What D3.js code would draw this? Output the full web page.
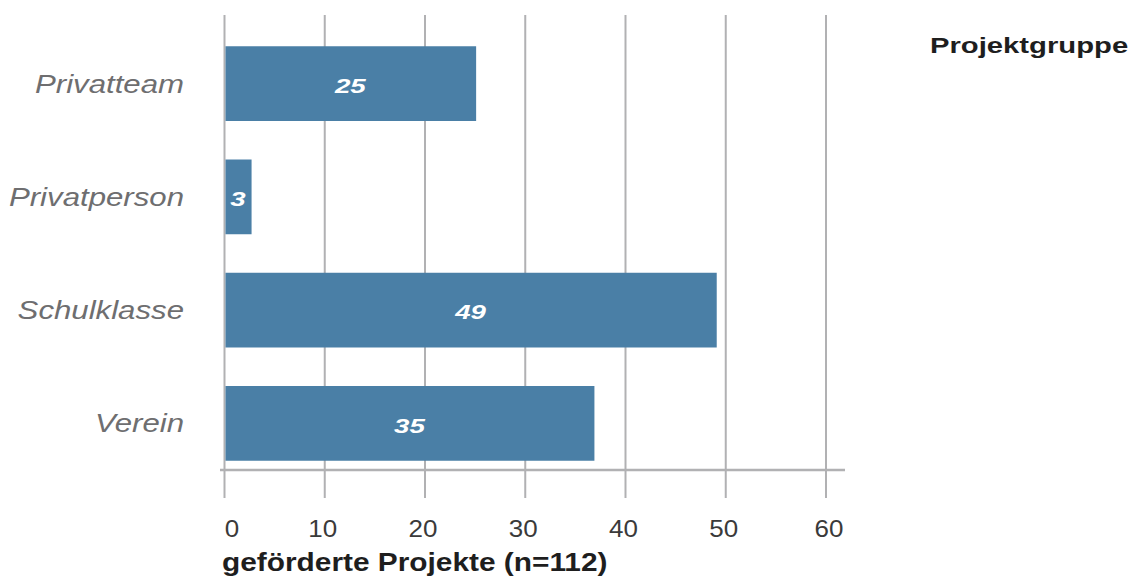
<!DOCTYPE html>
<html>
<head>
<meta charset="utf-8">
<script src="https://cdn.jsdelivr.net/npm/d3@7"></script>
<style>
  html, body { margin: 0; padding: 0; background: #fff; }
  svg { display: block; font-family: "Liberation Sans", Arial, Helvetica, sans-serif; }
</style>
</head>
<body>
<svg id="chart" width="1136" height="577"></svg>
<script>
// ---- data ----
const categories = ["Privatteam", "Privatperson", "Schulklasse", "Verein"];
const barValues  = [25.1, 2.7, 49.1, 36.9];   // drawn bar lengths
const valueLabels = ["25", "3", "49", "35"];  // printed labels
const xTicks = [0, 10, 20, 30, 40, 50, 60];
const xTitle = "geförderte Projekte (n=112)";
const legendTitle = "Projektgruppe";

// ---- layout ----
const svg = d3.select("#chart");
const x = d3.scaleLinear().domain([0, 60]).range([224.5, 826]);
const y = d3.scaleBand().domain(categories).range([27, 480]).paddingInner(0.34).paddingOuter(0.17);
const axisY = 470;
const gridColor = "#b1b1b3";
const barColor = "#4a7fa6";

// helper: horizontally stretched text
function stretchedText(g, tx, ty, sx) {
  return g.append("text").attr("transform", `translate(${tx},${ty}) scale(${sx},1)`);
}

// grid lines
svg.append("g").selectAll("line").data(xTicks).join("line")
  .attr("x1", d => x(d)).attr("x2", d => x(d))
  .attr("y1", 15).attr("y2", 498)
  .attr("stroke", gridColor).attr("stroke-width", 2);

// bars
svg.append("g").selectAll("rect").data(categories).join("rect")
  .attr("x", x(0) + 1)
  .attr("y", d => y(d))
  .attr("width", (d, i) => x(barValues[i]) - x(0) - 1)
  .attr("height", y.bandwidth())
  .attr("fill", barColor);

// x axis line
svg.append("line")
  .attr("x1", 220).attr("x2", 845)
  .attr("y1", axisY).attr("y2", axisY)
  .attr("stroke", gridColor).attr("stroke-width", 2.5);

// value labels
const vg = svg.append("g");
categories.forEach((c, i) => {
  const cx = (x(0) + x(barValues[i])) / 2;
  stretchedText(vg, cx, y(c) + y.bandwidth() / 2, 1.32)
    .attr("text-anchor", "middle")
    .attr("dy", "0.44em")
    .attr("font-size", 21)
    .attr("font-weight", "bold")
    .attr("font-style", "italic")
    .attr("fill", "#ffffff")
    .text(valueLabels[i]);
});

// category labels
const cg = svg.append("g");
categories.forEach(c => {
  stretchedText(cg, 184, y(c) + y.bandwidth() / 2, 1.2)
    .attr("text-anchor", "end")
    .attr("dy", "0.35em")
    .attr("font-size", 26)
    .attr("font-style", "italic")
    .attr("fill", "#6e6e70")
    .text(c);
});

// tick labels
const tg = svg.append("g");
xTicks.forEach(t => {
  const tx = t === 0 ? x(t) + 7.5 : x(t) + (t === 60 ? 3 : -2);
  stretchedText(tg, tx, 537, 1.13)
    .attr("text-anchor", "middle")
    .attr("font-size", 23)
    .attr("fill", "#3a3a3a")
    .text(t);
});

// axis title
stretchedText(svg, 222, 571, 1.17)
  .attr("font-size", 25.5)
  .attr("font-weight", "bold")
  .attr("fill", "#1e1e1e")
  .text(xTitle);

// legend title
stretchedText(svg, 930, 53, 1.3)
  .attr("font-size", 22.5)
  .attr("font-weight", "bold")
  .attr("fill", "#1e1e1e")
  .text(legendTitle);
</script>
</body>
</html>
